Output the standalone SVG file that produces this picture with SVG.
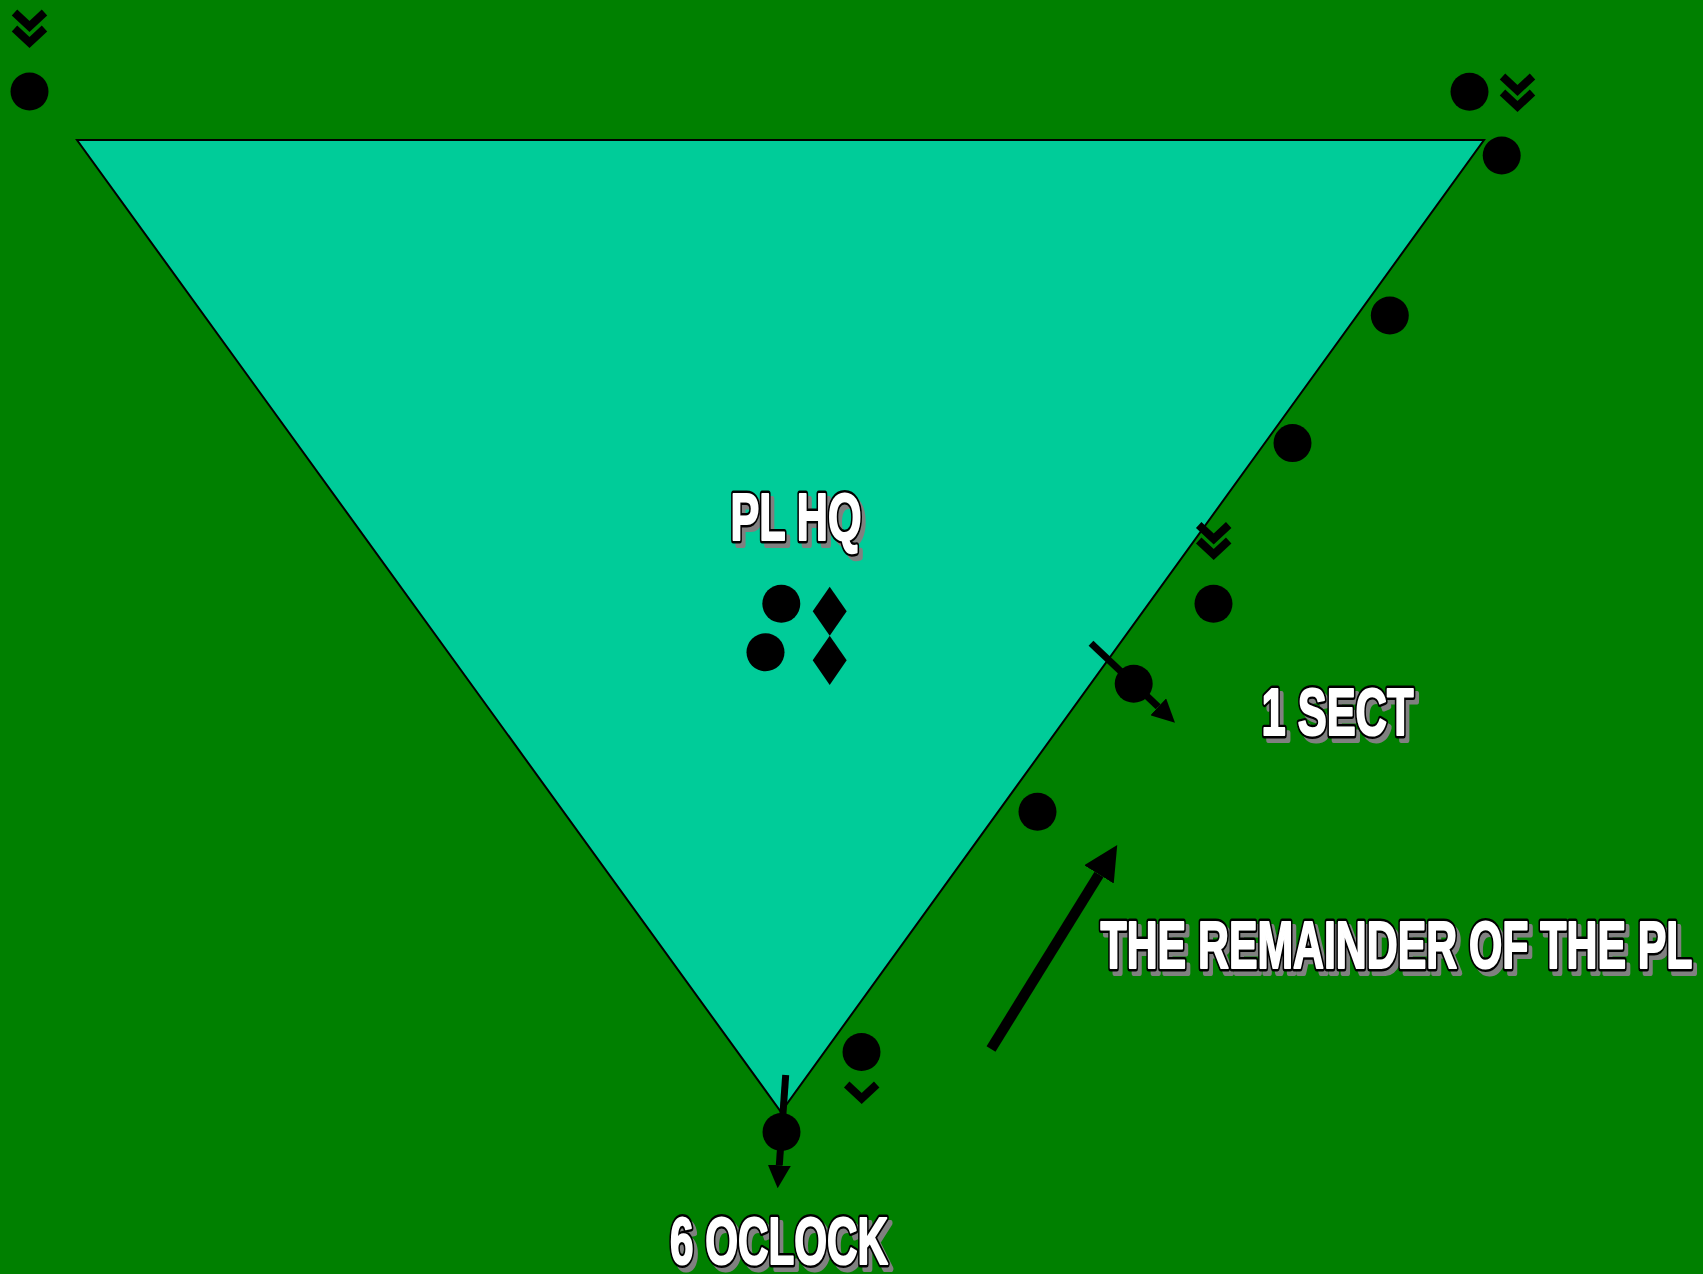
<svg xmlns="http://www.w3.org/2000/svg" width="1703" height="1274" viewBox="0 0 1703 1274">
<style>
.lbl{font-family:"Liberation Sans Narrow","Liberation Sans",Arial,sans-serif;font-weight:bold;font-size:66px;text-anchor:middle;stroke-linejoin:round}
.sh{fill:#808080;stroke:#808080;stroke-width:6}
.ol{fill:#000;stroke:#000;stroke-width:7}
.wt{fill:#fff;stroke:#fff;stroke-width:2.2}
.dot{fill:#000}
.arw{stroke:#000;fill:none;marker-end:url(#head)}
</style>
<defs>
<marker id="head" viewBox="0 0 10 10" refX="0" refY="5" markerWidth="3.3" markerHeight="3.3" orient="auto" markerUnits="strokeWidth">
<path d="M0,0 L10,5 L0,10 Z" fill="#000"/>
</marker>
<path id="chev" d="M-15,0 L0,14 L15,0" fill="none" stroke="#000" stroke-width="8"/>
<circle id="sol" r="19" class="dot"/>
</defs>
<rect width="1703" height="1274" fill="#008000"/>
<g id="area">
<polygon points="77,140 1484,140 781,1112" fill="#00CC99" stroke="#000" stroke-width="2"/>
</g>
<g id="connectors">
<line class="arw" x1="991" y1="1049" x2="1099" y2="874.4" stroke-width="10.5"/>
<line class="arw" x1="1091" y1="643.3" x2="1158.2" y2="706.8" stroke-width="7"/>
<line class="arw" x1="785.7" y1="1075" x2="779.3" y2="1165.3" stroke-width="7"/>
</g>
<g id="soldier-tl"><use href="#sol" x="29.5" y="91.5"/><use href="#chev" x="29.5" y="12.5"/><use href="#chev" x="29.5" y="28.5"/></g>
<g id="soldier-tr"><use href="#sol" x="1469.5" y="91.7"/><use href="#chev" x="1517.5" y="76.5"/><use href="#chev" x="1517.5" y="92.5"/></g>
<g id="soldier-r1"><use href="#sol" x="1501.7" y="155.5"/></g>
<g id="soldier-r2"><use href="#sol" x="1389.8" y="315.5"/></g>
<g id="soldier-r3"><use href="#sol" x="1292.5" y="443.1"/></g>
<g id="soldier-r4"><use href="#sol" x="1213.5" y="603.8"/><use href="#chev" x="1213.7" y="525"/><use href="#chev" x="1213.7" y="540.5"/></g>
<g id="soldier-r5"><use href="#sol" x="1133.7" y="683.8"/></g>
<g id="soldier-r6"><use href="#sol" x="1037.5" y="811.8"/></g>
<g id="soldier-r7"><use href="#sol" x="861.5" y="1052"/><use href="#chev" x="861.7" y="1084.5"/></g>
<g id="soldier-bottom"><use href="#sol" x="781.5" y="1132"/></g>
<g id="pl-hq">
<use href="#sol" x="781.3" y="603.8"/>
<use href="#sol" x="765.5" y="652.2"/>
<polygon points="829.7,586.7 846.7,611.2 829.7,635.7 812.7,611.2" fill="#000"/>
<polygon points="829.7,635.7 846.7,660.3 829.7,685 812.7,660.3" fill="#000"/>
</g>
<g id="label-plhq">
<text class="lbl sh" x="800" y="545" textLength="131" lengthAdjust="spacingAndGlyphs">PL HQ</text>
<text class="lbl ol" x="796" y="540" textLength="131" lengthAdjust="spacingAndGlyphs">PL HQ</text>
<text class="lbl wt" x="796" y="540" textLength="131" lengthAdjust="spacingAndGlyphs">PL HQ</text>
</g>
<g id="label-1sect">
<text class="lbl sh" x="1341.5" y="740" textLength="152" lengthAdjust="spacingAndGlyphs">1 SECT</text>
<text class="lbl ol" x="1337.5" y="735" textLength="152" lengthAdjust="spacingAndGlyphs">1 SECT</text>
<text class="lbl wt" x="1337.5" y="735" textLength="152" lengthAdjust="spacingAndGlyphs">1 SECT</text>
</g>
<g id="label-remainder">
<text class="lbl sh" x="1400.5" y="973" textLength="592" lengthAdjust="spacingAndGlyphs">THE REMAINDER OF THE PL</text>
<text class="lbl ol" x="1396.5" y="968" textLength="592" lengthAdjust="spacingAndGlyphs">THE REMAINDER OF THE PL</text>
<text class="lbl wt" x="1396.5" y="968" textLength="592" lengthAdjust="spacingAndGlyphs">THE REMAINDER OF THE PL</text>
</g>
<g id="label-6oclock">
<text class="lbl sh" x="783" y="1269" textLength="218" lengthAdjust="spacingAndGlyphs">6 OCLOCK</text>
<text class="lbl ol" x="779" y="1264" textLength="218" lengthAdjust="spacingAndGlyphs">6 OCLOCK</text>
<text class="lbl wt" x="779" y="1264" textLength="218" lengthAdjust="spacingAndGlyphs">6 OCLOCK</text>
</g>
</svg>
